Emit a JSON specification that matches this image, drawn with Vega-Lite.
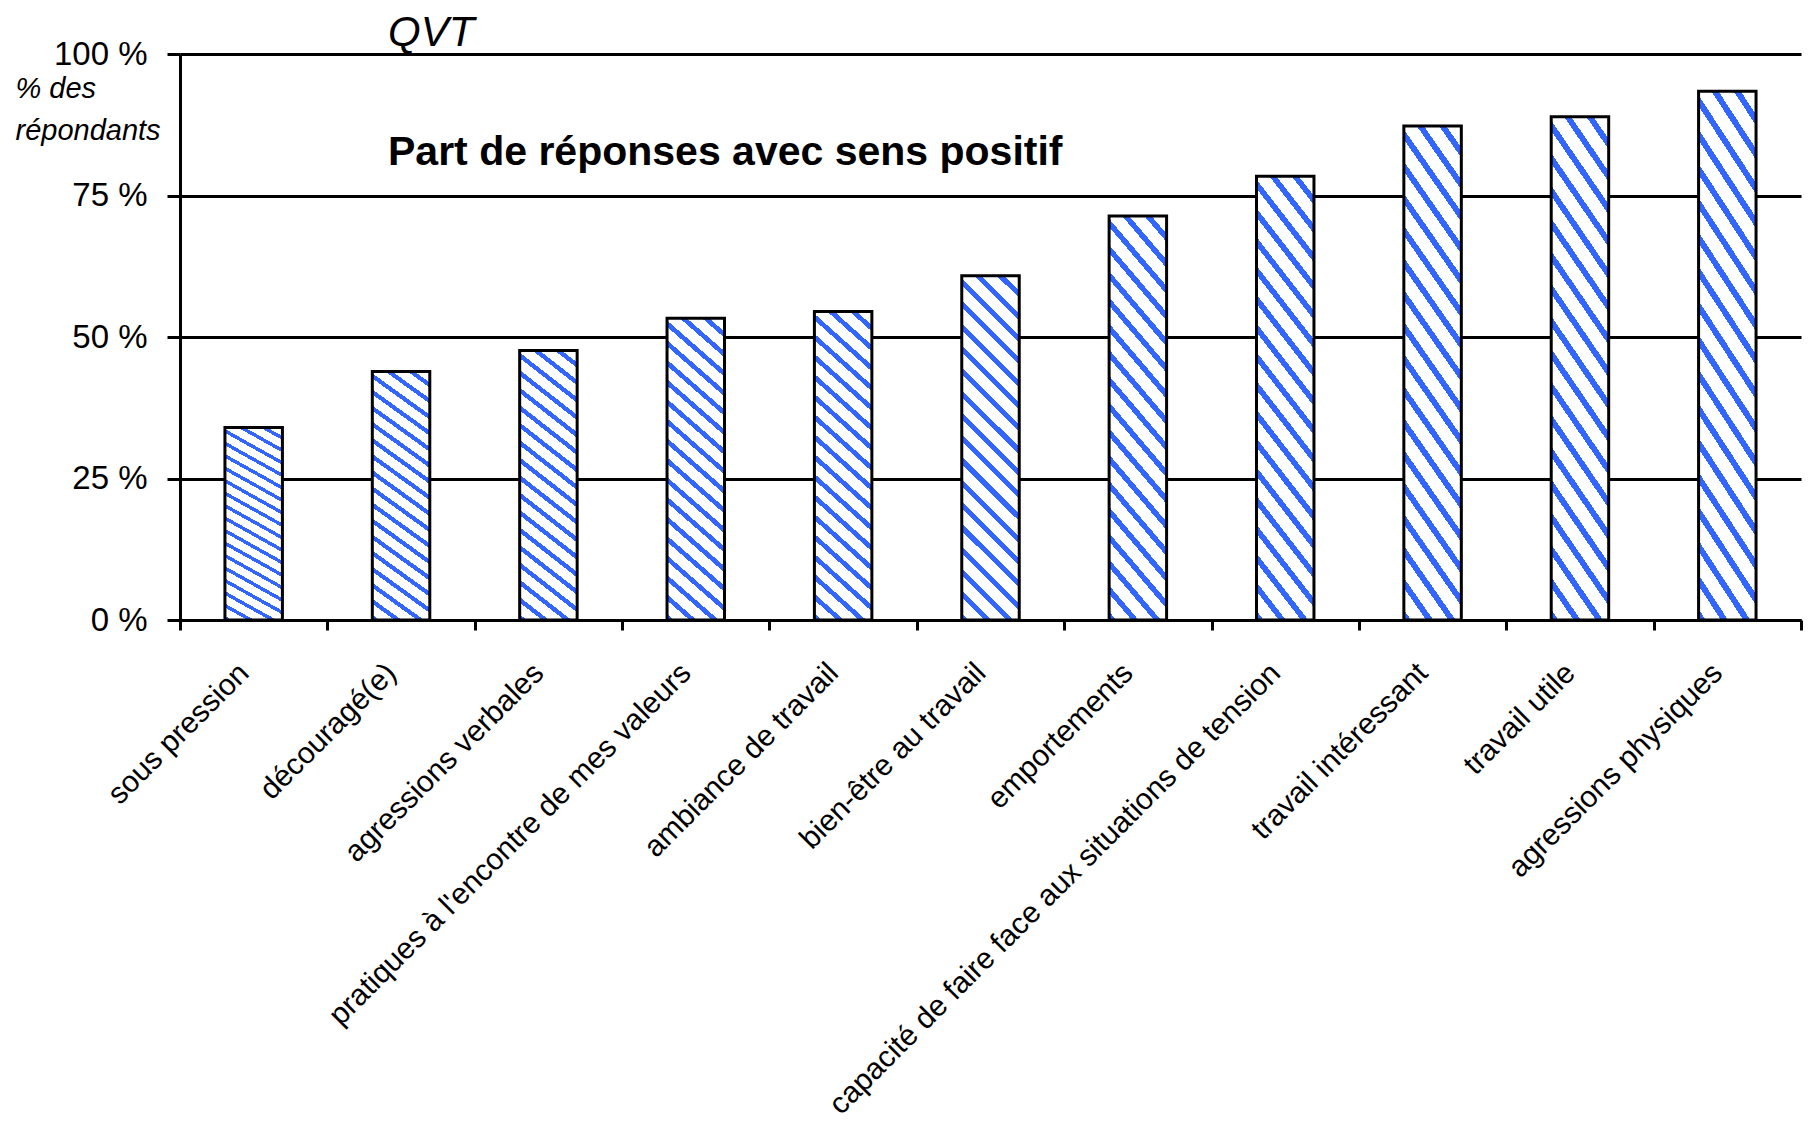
{
  "$schema": "https://vega.github.io/schema/vega-lite/v6.json",
  "width": 1621,
  "height": 566,
  "autosize": {"type": "none"},
  "padding": {"left": 180, "top": 54, "right": 7, "bottom": 507},
  "background": "white",
  "title": {
    "text": "QVT",
    "subtitle": "Part de réponses avec sens positif",
    "anchor": "start",
    "frame": "group",
    "dx": 208,
    "offset": -136,
    "font": "Liberation Sans",
    "fontSize": 42,
    "fontStyle": "italic",
    "fontWeight": "normal",
    "color": "black",
    "subtitleFont": "Liberation Sans",
    "subtitleFontSize": 41,
    "subtitleFontWeight": "bold",
    "subtitleFontStyle": "normal",
    "subtitleColor": "black",
    "subtitlePadding": 78
  },
  "config": {
    "view": {"stroke": null},
    "axis": {
      "labelFont": "Liberation Sans",
      "titleFont": "Liberation Sans",
      "labelColor": "black",
      "titleColor": "black",
      "domainColor": "black",
      "tickColor": "black",
      "gridColor": "black"
    }
  },
  "data": {
    "values": [
      {"item": "sous pression", "value": 34},
      {"item": "découragé(e)", "value": 43.9},
      {"item": "agressions verbales", "value": 47.6},
      {"item": "pratiques à l'encontre de mes valeurs", "value": 53.3},
      {"item": "ambiance de travail", "value": 54.5},
      {"item": "bien-être au travail", "value": 60.8},
      {"item": "emportements", "value": 71.4},
      {"item": "capacité de faire face aux situations de tension", "value": 78.4},
      {"item": "travail intéressant", "value": 87.3},
      {"item": "travail utile", "value": 88.9},
      {"item": "agressions physiques", "value": 93.4}
    ]
  },
  "mark": {
    "type": "bar",
    "width": {"band": 0.39},
    "stroke": "black",
    "strokeWidth": 3,
    "fill": {
      "gradient": "linear",
      "x1": 0, "y1": 1, "x2": 0.1892, "y2": -0.1351,
      "stops": [
        {"offset": 0, "color": "#3366ff"}, {"offset": 0.0178, "color": "#3366ff"}, {"offset": 0.0178, "color": "#ffffff"}, {"offset": 0.0556, "color": "#ffffff"},
        {"offset": 0.0556, "color": "#3366ff"}, {"offset": 0.0733, "color": "#3366ff"}, {"offset": 0.0733, "color": "#ffffff"}, {"offset": 0.1111, "color": "#ffffff"},
        {"offset": 0.1111, "color": "#3366ff"}, {"offset": 0.1289, "color": "#3366ff"}, {"offset": 0.1289, "color": "#ffffff"}, {"offset": 0.1667, "color": "#ffffff"},
        {"offset": 0.1667, "color": "#3366ff"}, {"offset": 0.1844, "color": "#3366ff"}, {"offset": 0.1844, "color": "#ffffff"}, {"offset": 0.2222, "color": "#ffffff"},
        {"offset": 0.2222, "color": "#3366ff"}, {"offset": 0.24, "color": "#3366ff"}, {"offset": 0.24, "color": "#ffffff"}, {"offset": 0.2778, "color": "#ffffff"},
        {"offset": 0.2778, "color": "#3366ff"}, {"offset": 0.2956, "color": "#3366ff"}, {"offset": 0.2956, "color": "#ffffff"}, {"offset": 0.3333, "color": "#ffffff"},
        {"offset": 0.3333, "color": "#3366ff"}, {"offset": 0.3511, "color": "#3366ff"}, {"offset": 0.3511, "color": "#ffffff"}, {"offset": 0.3889, "color": "#ffffff"},
        {"offset": 0.3889, "color": "#3366ff"}, {"offset": 0.4067, "color": "#3366ff"}, {"offset": 0.4067, "color": "#ffffff"}, {"offset": 0.4444, "color": "#ffffff"},
        {"offset": 0.4444, "color": "#3366ff"}, {"offset": 0.4622, "color": "#3366ff"}, {"offset": 0.4622, "color": "#ffffff"}, {"offset": 0.5, "color": "#ffffff"},
        {"offset": 0.5, "color": "#3366ff"}, {"offset": 0.5178, "color": "#3366ff"}, {"offset": 0.5178, "color": "#ffffff"}, {"offset": 0.5556, "color": "#ffffff"},
        {"offset": 0.5556, "color": "#3366ff"}, {"offset": 0.5733, "color": "#3366ff"}, {"offset": 0.5733, "color": "#ffffff"}, {"offset": 0.6111, "color": "#ffffff"},
        {"offset": 0.6111, "color": "#3366ff"}, {"offset": 0.6289, "color": "#3366ff"}, {"offset": 0.6289, "color": "#ffffff"}, {"offset": 0.6667, "color": "#ffffff"},
        {"offset": 0.6667, "color": "#3366ff"}, {"offset": 0.6844, "color": "#3366ff"}, {"offset": 0.6844, "color": "#ffffff"}, {"offset": 0.7222, "color": "#ffffff"},
        {"offset": 0.7222, "color": "#3366ff"}, {"offset": 0.74, "color": "#3366ff"}, {"offset": 0.74, "color": "#ffffff"}, {"offset": 0.7778, "color": "#ffffff"},
        {"offset": 0.7778, "color": "#3366ff"}, {"offset": 0.7956, "color": "#3366ff"}, {"offset": 0.7956, "color": "#ffffff"}, {"offset": 0.8333, "color": "#ffffff"},
        {"offset": 0.8333, "color": "#3366ff"}, {"offset": 0.8511, "color": "#3366ff"}, {"offset": 0.8511, "color": "#ffffff"}, {"offset": 0.8889, "color": "#ffffff"},
        {"offset": 0.8889, "color": "#3366ff"}, {"offset": 0.9067, "color": "#3366ff"}, {"offset": 0.9067, "color": "#ffffff"}, {"offset": 0.9444, "color": "#ffffff"},
        {"offset": 0.9444, "color": "#3366ff"}, {"offset": 0.9622, "color": "#3366ff"}, {"offset": 0.9622, "color": "#ffffff"}, {"offset": 1, "color": "#ffffff"}
      ]
    }
  },
  "encoding": {
    "x": {
      "field": "item",
      "type": "nominal",
      "sort": null,
      "scale": {"paddingInner": 0, "paddingOuter": 0},
      "axis": {
        "title": null,
        "tickBand": "extent",
        "labelAngle": -45,
        "labelAlign": "right",
        "labelBaseline": "middle",
        "labelFontSize": 30,
        "labelLimit": 2000,
        "labelPadding": 38,
        "labelOffset": -10,
        "domainWidth": 3,
        "tickWidth": 3,
        "tickSize": 10,
        "grid": false
      }
    },
    "y": {
      "field": "value",
      "type": "quantitative",
      "scale": {"domain": [0, 100], "nice": false},
      "axis": {
        "values": [0, 25, 50, 75, 100],
        "labelExpr": "datum.value + ' %'",
        "labelFontSize": 33,
        "labelPadding": 20,
        "tickSize": 13,
        "tickWidth": 3,
        "domainWidth": 3,
        "grid": true,
        "gridWidth": 3,
        "title": ["% des", "répondants"],
        "titleAngle": 0,
        "titleAlign": "left",
        "titleBaseline": "alphabetic",
        "titleX": -165,
        "titleY": 43,
        "titleFontSize": 29,
        "titleFontStyle": "italic",
        "titleFontWeight": "normal",
        "titleLineHeight": 42
      }
    }
  }
}
